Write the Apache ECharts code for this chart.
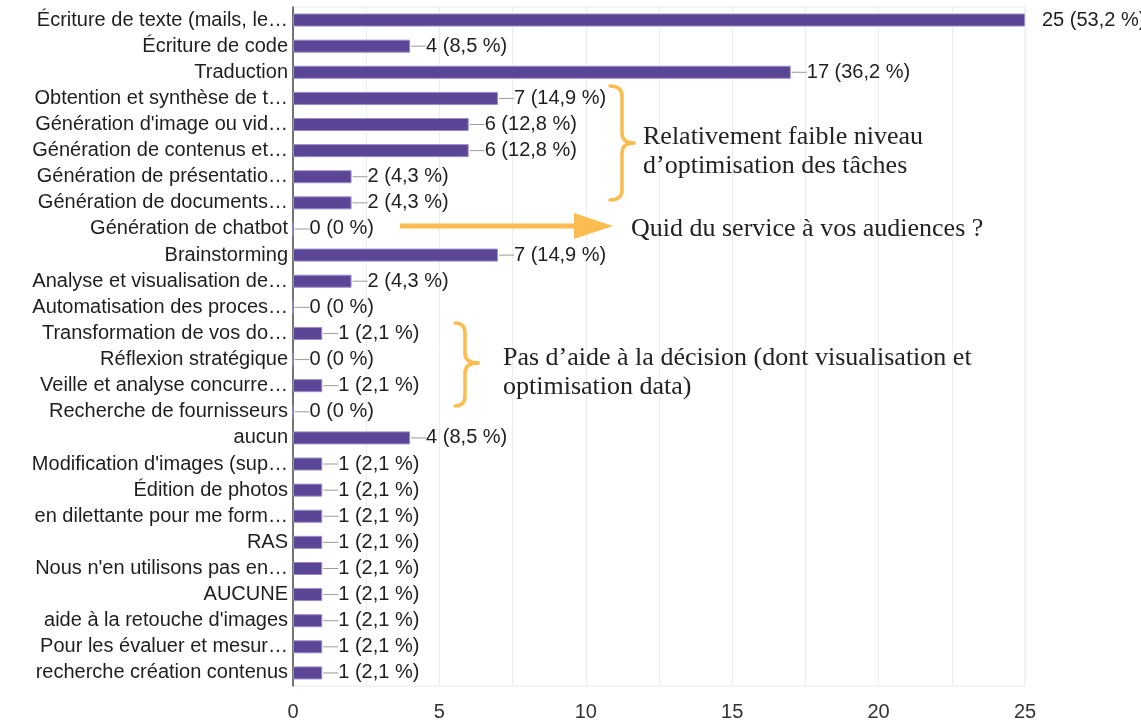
<!DOCTYPE html>
<html lang="fr">
<head>
<meta charset="utf-8">
<title>Usages de l'IA générative</title>
<script src="https://cdn.jsdelivr.net/npm/echarts@6/dist/echarts.min.js"></script>
<style>
  html, body { margin: 0; padding: 0; background: #ffffff; }
  #chart { width: 1141px; height: 720px; }
</style>
</head>
<body>
<div id="chart"></div>
<script>
// Réponses : usages cités (libellés tels qu'affichés)
const categories = [
  "Écriture de texte (mails, le…",
  "Écriture de code",
  "Traduction",
  "Obtention et synthèse de t…",
  "Génération d'image ou vid…",
  "Génération de contenus et…",
  "Génération de présentatio…",
  "Génération de documents…",
  "Génération de chatbot",
  "Brainstorming",
  "Analyse et visualisation de…",
  "Automatisation des proces…",
  "Transformation de vos do…",
  "Réflexion stratégique",
  "Veille et analyse concurre…",
  "Recherche de fournisseurs",
  "aucun",
  "Modification d'images (sup…",
  "Édition de photos",
  "en dilettante pour me form…",
  "RAS",
  "Nous n'en utilisons pas en…",
  "AUCUNE",
  "aide à la retouche d'images",
  "Pour les évaluer et mesur…",
  "recherche création contenus"
];

// Nombre de réponses par usage
const counts = [25, 4, 17, 7, 6, 6, 2, 2, 0, 7, 2, 0, 1, 0, 1, 0, 4, 1, 1, 1, 1, 1, 1, 1, 1, 1];

// Part des répondants (%)
const shares = ["53,2", "8,5", "36,2", "14,9", "12,8", "12,8", "4,3", "4,3", "0", "14,9", "4,3", "0",
                "2,1", "0", "2,1", "0", "8,5", "2,1", "2,1", "2,1", "2,1", "2,1", "2,1", "2,1", "2,1", "2,1"];

// Graduations de l'axe des valeurs
const xTicks = [0, 5, 10, 15, 20, 25];
const X_MAX = 25;

const SANS = "'Liberation Sans', Arial, sans-serif";
const SERIF = "'Liberation Serif', 'Times New Roman', serif";
const ORANGE = '#fbbd52';

const chart = echarts.init(document.getElementById('chart'), null, { renderer: 'canvas' });

// Accolade tournée vers la droite : haut (x0,y0), pointe (xt,ym), bas (x0,y1), montant vertical en xv
function brace(x0, y0, xv, xt, ym, y1) {
  const r = 10;
  const st = { stroke: ORANGE, lineWidth: 3.5, fill: null, lineCap: 'round' };
  return {
    type: 'group',
    children: [
      { type: 'bezierCurve', shape: { x1: x0, y1: y0, cpx1: xv, cpy1: y0, x2: xv, y2: y0 + r }, style: st },
      { type: 'line', shape: { x1: xv, y1: y0 + r, x2: xv, y2: ym - r }, style: st },
      { type: 'bezierCurve', shape: { x1: xv, y1: ym - r, cpx1: xv, cpy1: ym, x2: xt, y2: ym }, style: st },
      { type: 'bezierCurve', shape: { x1: xt, y1: ym, cpx1: xv, cpy1: ym, x2: xv, y2: ym + r }, style: st },
      { type: 'line', shape: { x1: xv, y1: ym + r, x2: xv, y2: y1 - r }, style: st },
      { type: 'bezierCurve', shape: { x1: xv, y1: y1 - r, cpx1: xv, cpy1: y1, x2: x0, y2: y1 }, style: st }
    ]
  };
}

function note(x, y, text) {
  return {
    type: 'text', left: x, top: y, z: 10,
    style: { text: text, font: '26px ' + SERIF, fill: '#222222', lineHeight: 29 }
  };
}

const option = {
  animation: false,
  backgroundColor: '#ffffff',
  grid: {
    left: 293, right: 116, top: 7, bottom: 34,
    outerBoundsMode: 'none',
    show: true, borderColor: '#e8e8e8', borderWidth: 1
  },
  xAxis: {
    type: 'value',
    min: 0, max: X_MAX, interval: 2.5,
    axisLine: { show: false },
    axisTick: { show: false },
    splitLine: { show: true, lineStyle: { color: '#ececec', width: 1 } },
    axisLabel: {
      margin: 16,
      fontFamily: SANS, fontSize: 20, color: '#333333',
      formatter: v => (xTicks.indexOf(v) >= 0 ? String(v) : '')
    }
  },
  yAxis: {
    type: 'category',
    data: categories,
    inverse: true,
    axisLine: { show: true, lineStyle: { color: '#4a4a4a', width: 1.5 } },
    axisTick: { show: false },
    splitLine: { show: false },
    axisLabel: {
      interval: 0,
      margin: 5,
      fontFamily: SANS, fontSize: 20, color: '#1e1e1e'
    }
  },
  series: [{
    type: 'bar',
    data: counts,
    barWidth: 13,
    itemStyle: { color: '#5b4596', borderColor: '#9a8bc6', borderWidth: 1 },
    label: {
      show: true,
      position: 'right',
      distance: 1,
      formatter: p => (p.value >= X_MAX ? '{gap|}' : '{ln|}') +
                      '{t|' + p.value + ' (' + shares[p.dataIndex] + ' %)}',
      rich: {
        ln: { width: 15, height: 1, backgroundColor: '#9a9a9a', verticalAlign: 'middle' },
        gap: { width: 16, height: 1 },
        t: { fontFamily: SANS, fontSize: 20, color: '#1e1e1e', verticalAlign: 'middle' }
      }
    }
  }],
  graphic: [
    brace(610, 86, 622, 634, 143, 200),
    note(643, 123, 'Relativement faible niveau\nd’optimisation des tâches'),
    // Flèche vers le commentaire sur les audiences
    { type: 'line', z: 10, shape: { x1: 400, y1: 226, x2: 578, y2: 226 },
      style: { stroke: ORANGE, lineWidth: 5 } },
    { type: 'polygon', z: 10, shape: { points: [[574, 213], [613, 226], [574, 239]] },
      style: { fill: ORANGE } },
    note(631, 215, 'Quid du service à vos audiences ?'),
    brace(455, 323, 465, 478, 363, 406),
    note(503, 344, 'Pas d’aide à la décision (dont visualisation et\noptimisation data)')
  ]
};

chart.setOption(option);
</script>
</body>
</html>
